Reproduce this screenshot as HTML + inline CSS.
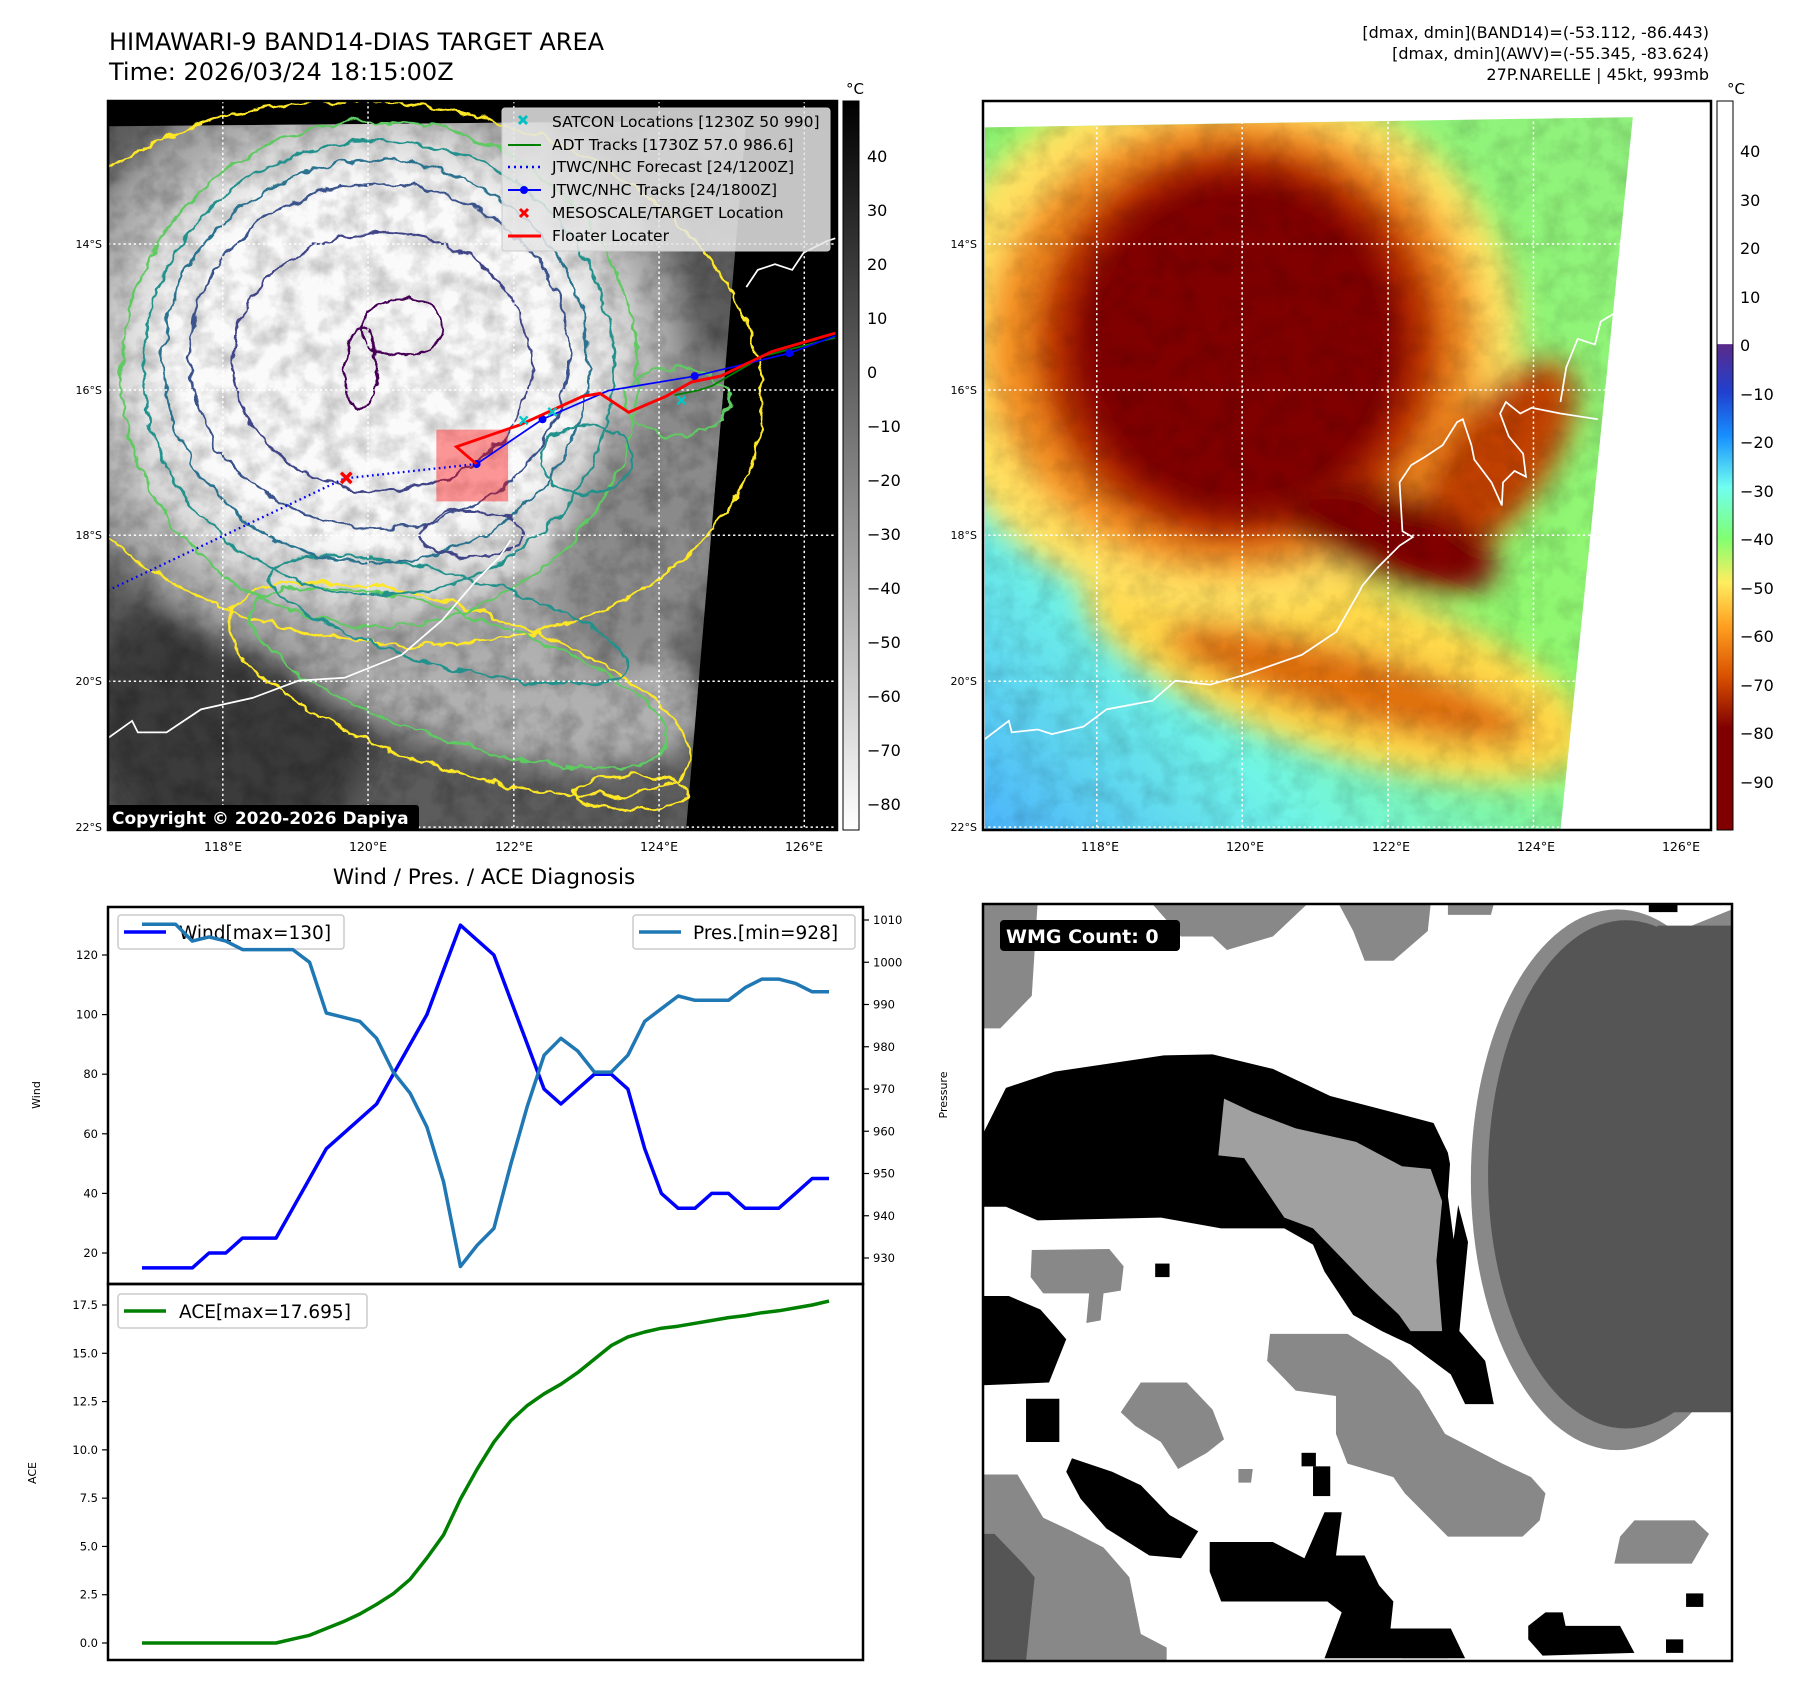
<!DOCTYPE html>
<html><head><meta charset="utf-8"><style>
html,body{margin:0;padding:0;background:#fff;}
svg text{font-family:"DejaVu Sans","Liberation Sans",sans-serif;}
</style></head><body>
<svg id="root" xmlns="http://www.w3.org/2000/svg" width="1801" height="1690" viewBox="0 0 1801 1690">
<defs>
  <filter id="wob" x="-10%" y="-10%" width="120%" height="120%"><feTurbulence type="fractalNoise" baseFrequency="0.03" numOctaves="3" seed="4" result="n"/><feDisplacementMap in="SourceGraphic" in2="n" scale="22" xChannelSelector="R" yChannelSelector="G"/></filter>
  <filter id="blur"><feGaussianBlur stdDeviation="25"/></filter>
  <filter id="noiseG"><feTurbulence type="fractalNoise" baseFrequency="0.025" numOctaves="4" seed="2"/><feColorMatrix type="matrix" values="0 0 0 0 0  0 0 0 0 0  0 0 0 0 0  0 0 0 -1.6 1.0"/></filter>
  <clipPath id="quadL"><polygon points="190,220 1300,210 1195,1445 190,1445"/></clipPath>
  <clipPath id="quadR"><polygon points="148,222 1276,204 1150,1445 148,1445"/></clipPath>
  <linearGradient id="cbL" x1="0" y1="0" x2="0" y2="1"><stop offset="0" stop-color="#000"/><stop offset="1" stop-color="#fff"/></linearGradient>
  <linearGradient id="cbR" x1="0" y1="0" x2="0" y2="1">
    <stop offset="0" stop-color="#fff"/><stop offset="0.333" stop-color="#fff"/>
    <stop offset="0.334" stop-color="#5a2a8a"/><stop offset="0.40" stop-color="#2040d0"/>
    <stop offset="0.46" stop-color="#1890ff"/><stop offset="0.53" stop-color="#70fff0"/>
    <stop offset="0.60" stop-color="#80ff70"/><stop offset="0.66" stop-color="#ffee60"/>
    <stop offset="0.72" stop-color="#ffa020"/><stop offset="0.79" stop-color="#d85000"/>
    <stop offset="0.86" stop-color="#800000"/><stop offset="1" stop-color="#800000"/>
  </linearGradient>
  <linearGradient id="baseR" x1="0" y1="1" x2="1" y2="0"><stop offset="0" stop-color="#45a8ff"/><stop offset="0.25" stop-color="#70f5e5"/><stop offset="0.5" stop-color="#90f870"/><stop offset="1" stop-color="#90f080"/></linearGradient>
</defs>

<text x="109" y="50" font-size="24" fill="#000">HIMAWARI-9 BAND14-DIAS TARGET AREA</text>
<text x="109" y="80" font-size="24" fill="#000">Time: 2026/03/24 18:15:00Z</text>
<g font-size="16" text-anchor="end" fill="#000">
  <text x="1709" y="38">[dmax, dmin](BAND14)=(-53.112, -86.443)</text>
  <text x="1709" y="59">[dmax, dmin](AWV)=(-55.345, -83.624)</text>
  <text x="1709" y="80">27P.NARELLE | 45kt, 993mb</text>
</g>

<!-- LEFT MAP -->
<svg x="108" y="101" width="729" height="729" viewBox="188 176 1270 1269" preserveAspectRatio="none">
  <rect x="188" y="176" width="1270" height="1269" fill="#000"/>
  <g clip-path="url(#quadL)">
    <rect x="150" y="150" width="1350" height="1350" fill="#5c5c5c"/>
    <g filter="url(#blur)">
      <ellipse cx="400" cy="1250" rx="250" ry="250" fill="#3a3a3a"/>
      <ellipse cx="1000" cy="1180" rx="120" ry="40" fill="#333"/>
      <ellipse cx="820" cy="1130" rx="420" ry="170" fill="#b0b0b0" transform="rotate(18 820 1130)"/>
      <ellipse cx="640" cy="640" rx="560" ry="520" fill="#a8a8a8"/>
      <ellipse cx="650" cy="640" rx="470" ry="430" fill="#dcdcdc"/>
      <ellipse cx="650" cy="630" rx="390" ry="350" fill="#fafafa"/>
      <ellipse cx="1150" cy="900" rx="150" ry="300" fill="#8a8a8a" transform="rotate(25 1150 900)"/>
    </g>
    <rect x="150" y="150" width="1350" height="1350" filter="url(#noiseG)" opacity="0.28"/>
  </g>
  <g fill="none" stroke-width="4" filter="url(#wob)">
    <ellipse cx="670" cy="650" rx="660" ry="470" stroke="#fde725" transform="rotate(8 670 650)"/>
    <ellipse cx="800" cy="1200" rx="420" ry="140" stroke="#fde725" transform="rotate(18 800 1200)"/>
    <ellipse cx="800" cy="1180" rx="380" ry="110" stroke="#5ec962" transform="rotate(18 800 1180)"/>
    <ellipse cx="660" cy="650" rx="450" ry="440" stroke="#5ec962"/>
    <ellipse cx="780" cy="1080" rx="320" ry="80" stroke="#21918c" transform="rotate(15 780 1080)"/>
    <ellipse cx="660" cy="640" rx="410" ry="395" stroke="#21918c"/>
    <ellipse cx="655" cy="630" rx="370" ry="350" stroke="#2c728e"/>
    <ellipse cx="660" cy="620" rx="330" ry="300" stroke="#3b528b"/>
    <ellipse cx="665" cy="630" rx="260" ry="225" stroke="#414487"/>
    <ellipse cx="820" cy="930" rx="90" ry="40" stroke="#414487"/>
    <ellipse cx="700" cy="570" rx="70" ry="50" stroke="#440154"/>
    <ellipse cx="630" cy="640" rx="30" ry="70" stroke="#440154"/>
    <ellipse cx="1020" cy="800" rx="80" ry="60" stroke="#21918c"/>
    <ellipse cx="1180" cy="700" rx="90" ry="60" stroke="#5ec962"/>
    <ellipse cx="1100" cy="1380" rx="100" ry="30" stroke="#fde725"/>
  </g>
  <polyline points="188,1285 230,1255 240,1275 290,1275 350,1235 440,1215 520,1185 600,1180 700,1140 770,1080 830,1010 870,970 890,940" fill="none" stroke="#fff" stroke-width="3"/>
  <polyline points="1300,500 1320,470 1350,460 1380,470 1400,440 1440,420 1455,415" fill="none" stroke="#fff" stroke-width="3"/>
  <g stroke="#fff" stroke-width="2.6" stroke-dasharray="4 5">
    <line x1="388" y1="176" x2="388" y2="1445"/><line x1="641" y1="176" x2="641" y2="1445"/><line x1="895" y1="176" x2="895" y2="1445"/><line x1="1148" y1="176" x2="1148" y2="1445"/><line x1="1401" y1="176" x2="1401" y2="1445"/>
    <line x1="188" y1="425" x2="1458" y2="425"/><line x1="188" y1="679" x2="1458" y2="679"/><line x1="188" y1="932" x2="1458" y2="932"/><line x1="188" y1="1186" x2="1458" y2="1186"/><line x1="188" y1="1440" x2="1458" y2="1440"/>
  </g>
  <rect x="760" y="748" width="125" height="125" fill="rgba(255,0,0,0.4)"/>
  <polyline points="188,1028 600,833 830,808" fill="none" stroke="#0000ff" stroke-width="4" stroke-dasharray="3 6"/>
  <polyline points="1175,688 1215,680 1240,672 1330,620 1455,588" fill="none" stroke="#008000" stroke-width="3"/>
  <polyline points="830,808 945,730 1060,680 1210,655 1375,615 1455,585" fill="none" stroke="#0000ff" stroke-width="3"/>
  <g fill="#0000ff"><circle cx="830" cy="808" r="7"/><circle cx="945" cy="730" r="7"/><circle cx="1210" cy="655" r="7"/><circle cx="1375" cy="615" r="7"/></g>
  <polyline points="830,808 795,778 905,740 1015,690 1045,685 1095,718 1160,690 1205,665 1255,655 1345,612 1455,580" fill="none" stroke="#ff0000" stroke-width="5"/>
  <g stroke="#00c8c8" stroke-width="4"><path d="M905 725l14 14M919 725l-14 14M955 710l14 14M969 710l-14 14M1180 690l14 14M1194 690l-14 14"/></g>
  <path d="M594 823l18 18M612 823l-18 18" stroke="#ff0000" stroke-width="6"/>
</svg>
<rect x="108" y="101" width="729" height="729" fill="none" stroke="#000" stroke-width="2.5"/>
<g>
  <rect x="502" y="108" width="328" height="143" rx="3" fill="#e6e6e6" fill-opacity="0.85" stroke="#ccc"/>
  <path d="M519 116l8 8M527 116l-8 8" stroke="#00c0c0" stroke-width="3"/>
  <line x1="508" y1="145" x2="541" y2="145" stroke="#008000" stroke-width="2"/>
  <line x1="508" y1="167" x2="541" y2="167" stroke="#0000ff" stroke-width="2.5" stroke-dasharray="2 4"/>
  <line x1="508" y1="190" x2="541" y2="190" stroke="#0000ff" stroke-width="2"/><circle cx="524" cy="190" r="4" fill="#0000ff"/>
  <path d="M520 209l8 8M528 209l-8 8" stroke="#ff0000" stroke-width="3"/>
  <line x1="508" y1="236" x2="541" y2="236" stroke="#ff0000" stroke-width="3"/>
  <g font-size="15.5" fill="#000">
    <text x="552" y="127">SATCON Locations [1230Z 50 990]</text>
    <text x="552" y="150">ADT Tracks [1730Z 57.0 986.6]</text>
    <text x="552" y="172">JTWC/NHC Forecast [24/1200Z]</text>
    <text x="552" y="195">JTWC/NHC Tracks [24/1800Z]</text>
    <text x="552" y="218">MESOSCALE/TARGET Location</text>
    <text x="552" y="241">Floater Locater</text>
  </g>
</g>
<g><rect x="107" y="805" width="312" height="25" rx="3" fill="#000"/><text x="112" y="824" font-size="17" font-weight="bold" fill="#fff">Copyright © 2020-2026 Dapiya</text></g>
<g font-size="11" fill="#000" text-anchor="end">
  <text x="102" y="248">14°S</text><text x="102" y="394">16°S</text><text x="102" y="539">18°S</text><text x="102" y="685">20°S</text><text x="102" y="831">22°S</text>
</g>
<g font-size="12.5" fill="#000" text-anchor="middle">
  <text x="223" y="851">118°E</text><text x="368" y="851">120°E</text><text x="514" y="851">122°E</text><text x="659" y="851">124°E</text><text x="804" y="851">126°E</text>
</g>
<rect x="843" y="101" width="16" height="729" fill="url(#cbL)" stroke="#000" stroke-width="1"/>
<text x="846" y="94" font-size="15">°C</text>
<g font-size="16" fill="#000">
  <text x="867" y="162">40</text><text x="867" y="216">30</text><text x="867" y="270">20</text><text x="867" y="324">10</text><text x="867" y="378">0</text>
  <text x="867" y="432">−10</text><text x="867" y="486">−20</text><text x="867" y="540">−30</text><text x="867" y="594">−40</text><text x="867" y="648">−50</text><text x="867" y="702">−60</text><text x="867" y="756">−70</text><text x="867" y="810">−80</text>
</g>

<!-- RIGHT MAP -->
<svg x="983" y="101" width="728" height="729" viewBox="145 176 1267 1269" preserveAspectRatio="none">
  <rect x="145" y="176" width="1267" height="1269" fill="#fff"/>
  <g clip-path="url(#quadR)">
    <rect x="100" y="150" width="1350" height="1350" fill="url(#baseR)"/>
    <g filter="url(#blur)">
      <ellipse cx="760" cy="1160" rx="460" ry="150" fill="#ffd848" transform="rotate(18 760 1160)"/>
      <ellipse cx="780" cy="1190" rx="330" ry="60" fill="#e07010" transform="rotate(15 780 1190)"/>
      <ellipse cx="560" cy="600" rx="520" ry="470" fill="#ffe060"/>
      <ellipse cx="580" cy="600" rx="430" ry="400" fill="#f49020"/>
      <ellipse cx="590" cy="600" rx="360" ry="350" fill="#c03800"/>
      <ellipse cx="1040" cy="800" rx="90" ry="200" fill="#c04000" transform="rotate(35 1040 800)"/>
      <ellipse cx="850" cy="930" rx="200" ry="80" fill="#800000" transform="rotate(20 850 930)"/>
    </g>
    <ellipse cx="590" cy="600" rx="290" ry="300" fill="#800000" filter="url(#blur)"/>
    <ellipse cx="590" cy="600" rx="250" ry="260" fill="#800000"/>
    <rect x="100" y="150" width="1350" height="1350" filter="url(#noiseG)" opacity="0.15"/>
  </g>
  <polyline points="148,1287 190,1255 195,1275 240,1270 265,1278 320,1265 360,1235 440,1220 480,1185 540,1192 600,1175 700,1140 760,1100 800,1030 805,1020 830,990 870,950 893,935 875,925 870,840 890,810 915,795 945,775 970,735 980,730 995,775 1000,800 1030,840 1048,880 1050,840 1070,820 1090,830 1085,790 1060,760 1045,720 1055,700 1080,720 1100,710 1150,720 1215,730" fill="none" stroke="#fff" stroke-width="3"/>
  <polyline points="1150,700 1160,640 1180,590 1210,600 1220,560 1245,545 1250,480" fill="none" stroke="#fff" stroke-width="3"/>
  <g stroke="#fff" stroke-width="2.6" stroke-dasharray="4 5">
    <line x1="343" y1="176" x2="343" y2="1445"/><line x1="596" y1="176" x2="596" y2="1445"/><line x1="850" y1="176" x2="850" y2="1445"/><line x1="1103" y1="176" x2="1103" y2="1445"/><line x1="1356" y1="176" x2="1356" y2="1445"/>
    <line x1="145" y1="425" x2="1412" y2="425"/><line x1="145" y1="679" x2="1412" y2="679"/><line x1="145" y1="932" x2="1412" y2="932"/><line x1="145" y1="1186" x2="1412" y2="1186"/><line x1="145" y1="1440" x2="1412" y2="1440"/>
  </g>
</svg>
<rect x="983" y="101" width="728" height="729" fill="none" stroke="#000" stroke-width="2.5"/>
<g font-size="11" fill="#000" text-anchor="end">
  <text x="977" y="248">14°S</text><text x="977" y="394">16°S</text><text x="977" y="539">18°S</text><text x="977" y="685">20°S</text><text x="977" y="831">22°S</text>
</g>
<g font-size="12.5" fill="#000" text-anchor="middle">
  <text x="1100" y="851">118°E</text><text x="1245" y="851">120°E</text><text x="1391" y="851">122°E</text><text x="1536" y="851">124°E</text><text x="1681" y="851">126°E</text>
</g>
<rect x="1717" y="101" width="16" height="729" fill="url(#cbR)" stroke="#000" stroke-width="1"/>
<text x="1727" y="94" font-size="15">°C</text>
<g font-size="16" fill="#000">
  <text x="1740" y="157">40</text><text x="1740" y="206">30</text><text x="1740" y="254">20</text><text x="1740" y="303">10</text><text x="1740" y="351">0</text>
  <text x="1740" y="400">−10</text><text x="1740" y="448">−20</text><text x="1740" y="497">−30</text><text x="1740" y="545">−40</text><text x="1740" y="594">−50</text><text x="1740" y="642">−60</text><text x="1740" y="691">−70</text><text x="1740" y="739">−80</text><text x="1740" y="788">−90</text>
</g>

<!-- WMG panel -->
<svg x="983" y="904" width="749" height="757" viewBox="145 100 1305 1400" preserveAspectRatio="none">
  <rect x="145" y="100" width="1305" height="1400" fill="#fff"/>
  <g fill="#888">
    <polygon points="145,100 240,100 230,270 175,330 145,330"/>
    <polygon points="440,100 710,100 650,160 570,185 545,160 490,160"/>
    <polygon points="765,100 925,100 920,150 860,205 810,205 790,150"/>
    <polygon points="955,100 1035,100 1030,120 955,120"/>
    <polygon points="230,740 365,738 390,770 385,815 355,820 350,870 325,875 330,820 250,820 228,790"/>
    <polygon points="420,985 500,985 545,1035 565,1090 535,1115 485,1145 455,1095 410,1065 385,1040"/>
    <polygon points="645,895 780,895 855,945 905,1000 950,1080 1050,1135 1100,1160 1125,1190 1115,1240 1085,1270 955,1270 880,1190 860,1160 780,1135 760,1080 760,1010 690,1000 640,945"/>
    <polygon points="145,1155 205,1155 250,1235 300,1260 355,1290 400,1345 420,1450 465,1475 465,1500 145,1500"/>
    <polygon points="1280,1240 1385,1240 1410,1265 1380,1320 1245,1320 1255,1270"/>
    <polygon points="875,1470 960,1470 955,1495 875,1495"/>
    <polygon points="590,1145 615,1145 612,1170 590,1170"/>
    <ellipse cx="1250" cy="610" rx="255" ry="500"/>
    <polygon points="1380,140 1450,110 1450,180 1380,180"/>
  </g>
  <ellipse cx="1265" cy="600" rx="240" ry="470" fill="#555"/>
  <rect x="1320" y="140" width="130" height="900" fill="#555"/>
  <polygon points="145,1265 165,1265 215,1320 235,1345 220,1500 145,1500" fill="#555"/>
  <g fill="#000">
    <polygon points="145,525 185,440 270,410 460,380 545,378 650,405 750,455 930,505 955,560 970,645 990,725 975,890 1020,945 1035,1025 985,1025 960,970 890,915 840,890 790,860 740,780 720,730 670,700 560,700 455,680 240,685 185,660 145,660"/>
    <polygon points="145,825 190,825 245,850 270,880 290,905 260,985 145,990"/>
    <polygon points="300,1125 370,1150 420,1175 470,1230 520,1260 490,1310 435,1305 360,1255 315,1200 290,1150"/>
    <polygon points="540,1280 650,1280 705,1310 740,1225 770,1225 760,1305 810,1305 835,1360 860,1390 855,1440 960,1440 985,1495 740,1495 770,1410 745,1390 560,1390 540,1335"/>
    <polygon points="1095,1435 1125,1410 1155,1410 1160,1435 1255,1435 1280,1485 1120,1490 1095,1460"/>
    <rect x="445" y="765" width="25" height="25"/><rect x="700" y="1115" width="25" height="25"/><rect x="720" y="1140" width="30" height="55"/>
    <rect x="1370" y="1375" width="30" height="25"/><rect x="1335" y="1460" width="30" height="25"/><rect x="220" y="1015" width="58" height="80"/><rect x="1305" y="100" width="50" height="15"/>
  </g>
  <polygon points="565,460 615,485 690,515 795,540 875,585 925,590 945,650 935,760 945,890 890,890 870,860 820,810 770,755 720,700 670,680 600,570 555,565" fill="#a0a0a0"/>
  <polygon points="960,560 985,560 975,640 965,720 955,640" fill="#fff"/>
</svg>
<rect x="983" y="904" width="749" height="757" fill="none" stroke="#000" stroke-width="2.5"/>
<g><rect x="1000" y="920" width="180" height="31" rx="4" fill="#000"/><text x="1006" y="943" font-size="19" font-weight="bold" fill="#fff">WMG Count: 0</text></g>

<!-- Bottom-left chart -->
<text x="484" y="884" font-size="21.5" text-anchor="middle" fill="#000">Wind / Pres. / ACE Diagnosis</text>
<g id="chart"></g>
</svg>
<script>
const wind = [15,15,15,15,20,20,25,25,25,35,45,55,60,65,70,80,90,100,115,130,125,120,105,90,75,70,75,80,80,75,55,40,35,35,40,40,35,35,35,40,45,45];
const pres = [1009,1009,1009,1005,1006,1005,1003,1003,1003,1003,1000,988,987,986,982,974,969,961,948,928,933,937,952,966,978,982,979,974,974,978,986,989,992,991,991,991,994,996,996,995,993,993];
const ace = [0,0,0,0,0,0,0,0,0,0.2,0.4,0.75,1.1,1.5,2.0,2.55,3.3,4.4,5.6,7.45,9.0,10.4,11.5,12.3,12.9,13.4,14.0,14.7,15.4,15.85,16.1,16.3,16.4,16.55,16.7,16.85,16.95,17.1,17.2,17.35,17.5,17.7];
const windTicks = [20,40,60,80,100,120];
const presTicks = [930,940,950,960,970,980,990,1000,1010];
const aceTicks = [0,2.5,5,7.5,10,12.5,15,17.5];

const NS='http://www.w3.org/2000/svg';
const g=document.getElementById('chart');
function mk(tag,attrs,parent){const e=document.createElementNS(NS,tag);for(const k in attrs)e.setAttribute(k,attrs[k]);(parent||g).appendChild(e);return e;}
const L=108,R=863,T=907,M=1284,B=1660;
const xS=i=>142+i*(829-142)/(wind.length-1);
const yW=w=>1253-(w-20)*(1253-955)/100;
const yP=p=>1258-(p-930)*(1258-920)/80;
const yA=a=>1643-a*(1643-1305)/17.5;
function pts(arr,fy){return arr.map((v,i)=>xS(i).toFixed(1)+','+fy(v).toFixed(1)).join(' ');}

windTicks.forEach(t=>{
  const tk=mk('line',{x1:L-6,x2:L,y1:yW(t),y2:yW(t),stroke:'#000','stroke-width':1.2});
  
  
  const tx=mk('text',{x:L-10,y:yW(t)+4,'font-size':11.5,'text-anchor':'end',fill:'#000'});tx.textContent=t;
  
  
});
presTicks.forEach(t=>{
  const tk=mk('line',{x1:R,x2:R+6,y1:yP(t),y2:yP(t),stroke:'#000','stroke-width':1.2});
  
  
  const tx=mk('text',{x:R+10,y:yP(t)+4,'font-size':11.5,fill:'#000'});tx.textContent=t;
  
  
});
aceTicks.forEach(t=>{
  const tk=mk('line',{x1:L-6,x2:L,y1:yA(t),y2:yA(t),stroke:'#000','stroke-width':1.2});
  
  
  const tx=mk('text',{x:L-10,y:yA(t)+4,'font-size':11.5,'text-anchor':'end',fill:'#000'});tx.textContent=t.toFixed(1);
  
  
});
let yl=mk('text',{x:40,y:1095,'font-size':11,'text-anchor':'middle',transform:'rotate(-90 40 1095)'});yl.textContent='Wind';


yl=mk('text',{x:947,y:1095,'font-size':11,'text-anchor':'middle',transform:'rotate(-90 947 1095)'});yl.textContent='Pressure';


yl=mk('text',{x:36,y:1473,'font-size':11,'text-anchor':'middle',transform:'rotate(-90 36 1473)'});yl.textContent='ACE';



const wl=mk('polyline',{points:pts(wind,yW),fill:'none',stroke:'#0000ff','stroke-width':3.5,'stroke-linejoin':'round'});


const wlg=mk('g',{});


mk('rect',{x:118,y:915,width:226,height:34,rx:3,fill:'#fff','fill-opacity':0.85,stroke:'#ccc','stroke-width':1.5},wlg);
mk('line',{x1:124,x2:166,y1:932,y2:932,stroke:'#0000ff','stroke-width':3.5},wlg);
let t=mk('text',{x:179,y:939,'font-size':18.5,fill:'#000'},wlg);t.textContent='Wind[max=130]';
const pl=mk('polyline',{points:pts(pres,yP),fill:'none',stroke:'#1f77b4','stroke-width':3.5,'stroke-linejoin':'round'});


const plg=mk('g',{});


mk('rect',{x:633,y:915,width:222,height:34,rx:3,fill:'#fff','fill-opacity':0.85,stroke:'#ccc','stroke-width':1.5},plg);
mk('line',{x1:639,x2:681,y1:932,y2:932,stroke:'#1f77b4','stroke-width':3.5},plg);
t=mk('text',{x:693,y:939,'font-size':18.5,fill:'#000'},plg);t.textContent='Pres.[min=928]';
const al=mk('polyline',{points:pts(ace,yA),fill:'none',stroke:'#008000','stroke-width':3.5,'stroke-linejoin':'round'});


const alg=mk('g',{});


mk('rect',{x:118,y:1294,width:249,height:34,rx:3,fill:'#fff','fill-opacity':0.85,stroke:'#ccc','stroke-width':1.5},alg);
mk('line',{x1:124,x2:166,y1:1311,y2:1311,stroke:'#008000','stroke-width':3.5},alg);
t=mk('text',{x:179,y:1318,'font-size':18.5,fill:'#000'},alg);t.textContent='ACE[max=17.695]';
const f1=mk('rect',{x:L,y:T,width:R-L,height:M-T,fill:'none',stroke:'#000','stroke-width':2.5});


const f2=mk('rect',{x:L,y:M,width:R-L,height:B-M,fill:'none',stroke:'#000','stroke-width':2.5});


</script>
</body></html>
